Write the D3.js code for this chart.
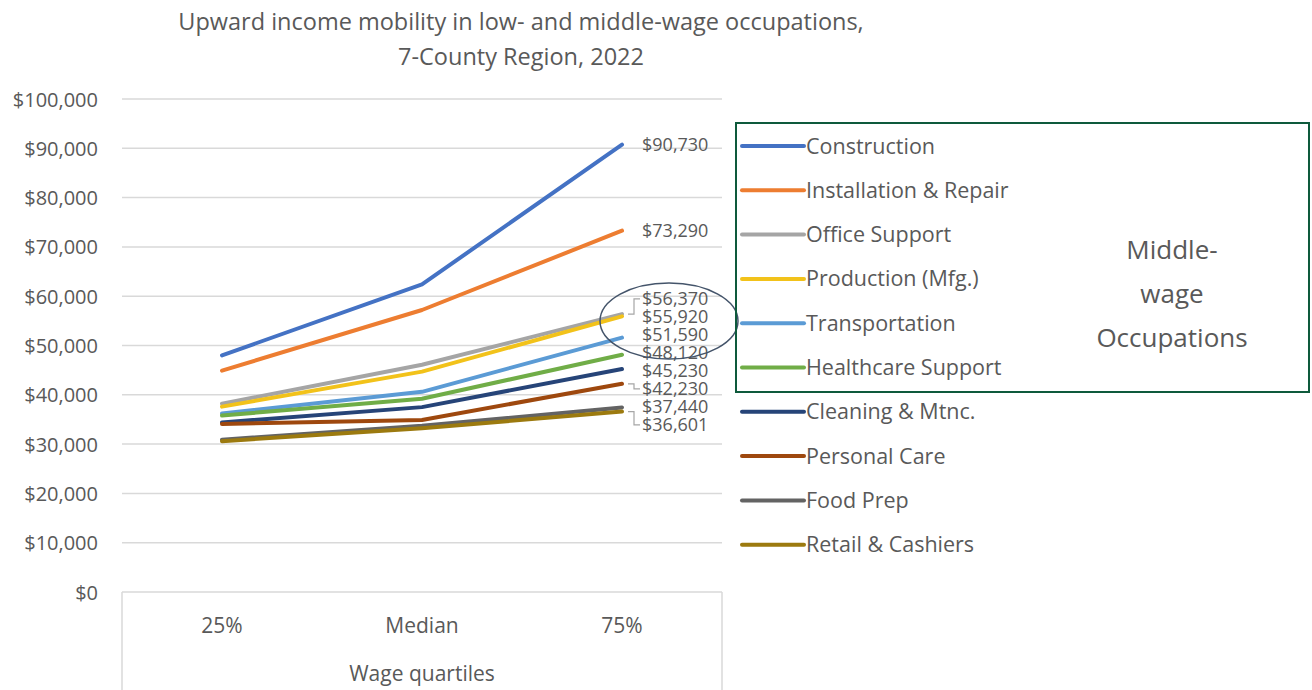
<!DOCTYPE html>
<html>
<head>
<meta charset="utf-8">
<script src="https://cdn.jsdelivr.net/npm/d3@7"></script>
<style>
  body { margin: 0; background: #fff; }
  text { font-family: "Open Sans", "Noto Sans", sans-serif; fill: #595959; }
</style>
</head>
<body>
<svg id="chart"></svg>
<script>
// data
const quartiles = ["25%", "Median", "75%"];
const occupations = ["Construction", "Installation & Repair", "Office Support", "Production (Mfg.)",
  "Transportation", "Healthcare Support", "Cleaning & Mtnc.", "Personal Care", "Food Prep", "Retail & Cashiers"];
const construction = [48000, 62400, 90730];
const installation = [44900, 57200, 73290];
const office = [38200, 46100, 56370];
const production = [37600, 44700, 55920];
const transportation = [36200, 40600, 51590];
const healthcare = [35800, 39200, 48120];
const cleaning = [34400, 37500, 45230];
const personalCare = [34100, 34900, 42230];
const foodPrep = [30900, 33700, 37440];
const retail = [30600, 33200, 36601];
const yTicks = [0, 10000, 20000, 30000, 40000, 50000, 60000, 70000, 80000, 90000, 100000];
const colors = ["#4472C4", "#ED7D31", "#A5A5A5", "#F2C21A", "#5B9BD5", "#70AD47", "#264478", "#9E480E", "#636363", "#9C7A0F"];

const allValues = [construction, installation, office, production, transportation,
  healthcare, cleaning, personalCare, foodPrep, retail];
const series = occupations.map((name, i) => ({name: name, values: allValues[i], color: colors[i]}));

const svg = d3.select("#chart").attr("width", 1312).attr("height", 690);

const x = d3.scaleBand().domain(quartiles).range([122, 722]);
const y = d3.scaleLinear().domain([0, 100000]).range([592, 99]);
const cx = d => x(d) + x.bandwidth() / 2;

// title
svg.append("text").attr("x", 521).attr("y", 30).attr("text-anchor", "middle")
  .style("font-size", "23.5px").text("Upward income mobility in low- and middle-wage occupations,");
svg.append("text").attr("x", 521).attr("y", 65).attr("text-anchor", "middle")
  .style("font-size", "23.5px").text("7-County Region, 2022");

// gridlines
svg.append("g").selectAll("line").data(yTicks).join("line")
  .attr("x1", 122).attr("x2", 722)
  .attr("y1", d => y(d)).attr("y2", d => y(d))
  .attr("stroke", "#D9D9D9").attr("stroke-width", 1.5);

// y axis labels
const yAxis = svg.append("g").attr("transform", "translate(98,0)")
  .call(d3.axisLeft(y).tickValues(yTicks).tickSize(0).tickFormat(d => "$" + d3.format(",")(d)));
yAxis.select(".domain").remove();
yAxis.selectAll("text").style("font-size", "20px").attr("fill", "#595959").attr("dy", "0.35em").attr("x", 0);

// x axis box
svg.append("path").attr("d", "M122,690 V592 M722,592 V690")
  .attr("stroke", "#D9D9D9").attr("stroke-width", 1.5).attr("fill", "none");
const xAxis = svg.append("g").attr("transform", "translate(0,626)")
  .call(d3.axisBottom(x).tickSize(0));
xAxis.select(".domain").remove();
xAxis.selectAll("text").style("font-size", "21px").attr("fill", "#595959").attr("dy", "0.35em").attr("y", 0);
svg.append("text").attr("x", 422).attr("y", 681).attr("text-anchor", "middle")
  .style("font-size", "21px").text("Wage quartiles");

// lines
const line = d3.line().x((d, i) => cx(quartiles[i])).y(d => y(d));
svg.append("g").selectAll("path").data(series).join("path")
  .attr("d", d => line(d.values))
  .attr("fill", "none")
  .attr("stroke", d => d.color)
  .attr("stroke-width", 4)
  .attr("stroke-linejoin", "round")
  .attr("stroke-linecap", "round");

// end labels, spread apart so they do not overlap
const lastX = cx(quartiles[2]);
const labels = series.map(s => ({v: s.values[2], y0: y(s.values[2]), y: y(s.values[2])}))
  .sort((a, b) => a.y0 - b.y0);
const gap = 18;
for (let it = 0; it < 300; it++) {
  for (let i = 1; i < labels.length; i++) {
    const d = labels[i].y - labels[i - 1].y;
    if (d < gap) {
      const push = (gap - d) / 2;
      labels[i].y += push;
      labels[i - 1].y -= push;
    }
  }
}
const lbl = svg.append("g");
labels.forEach(l => {
  if (Math.abs(l.y - l.y0) > 3) {
    lbl.append("path")
      .attr("d", `M${lastX + 6},${l.y0} H${lastX + 12} V${l.y} H${lastX + 18}`)
      .attr("fill", "none").attr("stroke", "#A6A6A6").attr("stroke-width", 1.2);
  }
  lbl.append("text").attr("x", lastX + 20).attr("y", l.y).attr("dy", "0.35em")
    .style("font-size", "18px").text("$" + d3.format(",")(l.v));
});

// ellipse highlight
svg.append("ellipse").attr("cx", 669).attr("cy", 321).attr("rx", 69).attr("ry", 38)
  .attr("fill", "none").attr("stroke", "#44546A").attr("stroke-width", 1.5);

// middle-wage box
svg.append("rect").attr("x", 736).attr("y", 123).attr("width", 573).attr("height", 269)
  .attr("fill", "none").attr("stroke", "#0E5A3C").attr("stroke-width", 2);
["Middle-", "wage", "Occupations"].forEach((t, i) => {
  svg.append("text").attr("x", 1172).attr("y", 259 + i * 44).attr("text-anchor", "middle")
    .style("font-size", "26px").text(t);
});

// legend
const legend = svg.append("g").selectAll("g").data(series).join("g")
  .attr("transform", (d, i) => `translate(742,${146 + i * 44.3})`);
legend.append("line").attr("x1", 0).attr("x2", 62).attr("y1", 0).attr("y2", 0)
  .attr("stroke", d => d.color).attr("stroke-width", 4).attr("stroke-linecap", "round");
legend.append("text").attr("x", 64).attr("dy", "0.35em").style("font-size", "21.5px")
  .text(d => d.name);
</script>
</body>
</html>
